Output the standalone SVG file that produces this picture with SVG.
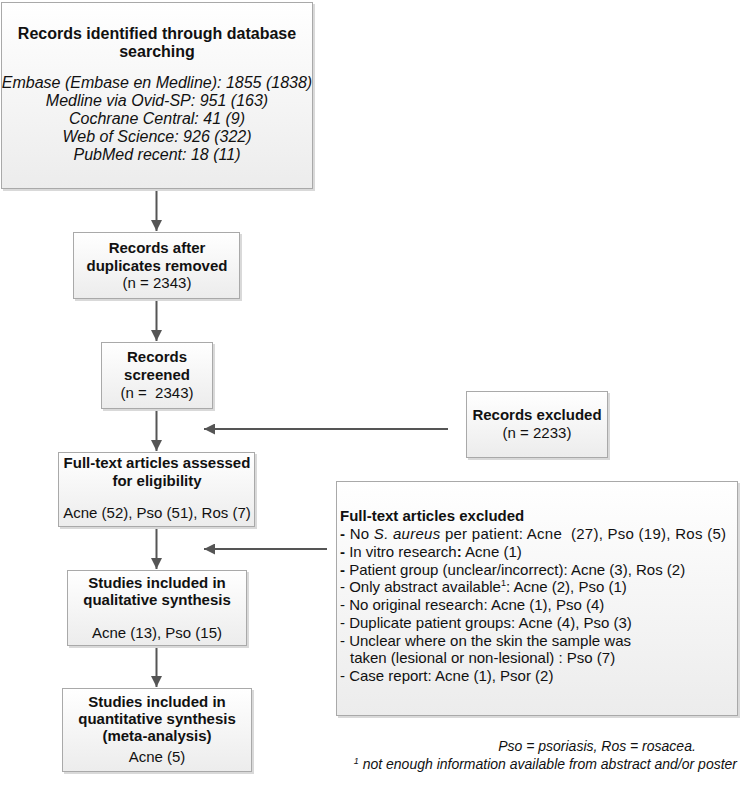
<svg xmlns="http://www.w3.org/2000/svg" width="742" height="785" viewBox="0 0 742 785">
<style>
.box{fill:url(#g);stroke:#a9a9a9;stroke-width:1}
.sh{fill:#d9d9d9}
text{font-family:"Liberation Sans",Arial,sans-serif;fill:#111}
.b{font-weight:bold}
.c{text-anchor:middle}
.f15{font-size:15px}
.f16{font-size:16px}
.i{font-style:italic}
.con{stroke:#555;stroke-width:2;fill:none;marker-end:url(#ah)}
.fn{font-family:"Liberation Sans",Arial,sans-serif;font-style:italic;font-size:14px}
</style>
<defs>
<linearGradient id="g" x1="0" y1="0" x2="0" y2="1">
<stop offset="0" stop-color="#ffffff"/>
<stop offset="1" stop-color="#ececec"/>
</linearGradient>
<marker id="ah" viewBox="0 0 10 10" refX="10" refY="5" markerWidth="5.5" markerHeight="5.5" orient="auto" markerUnits="strokeWidth">
<path d="M0,0 L10,5 L0,10 z" fill="#555"/>
</marker>
</defs>

<g id="connectors">
<line class="con" x1="156.5" y1="190" x2="156.5" y2="231"/>
<line class="con" x1="156.5" y1="299" x2="156.5" y2="341"/>
<line class="con" x1="156.5" y1="409" x2="156.5" y2="451"/>
<line class="con" x1="156.5" y1="527" x2="156.5" y2="569"/>
<line class="con" x1="156.5" y1="646" x2="156.5" y2="687"/>
<line class="con" x1="448" y1="429" x2="204" y2="429"/>
<line class="con" x1="327" y1="549" x2="204" y2="549"/>
</g>

<g id="n1">
<rect class="sh" x="3" y="4" width="312" height="187"/>
<rect class="box" x="1.5" y="2.5" width="311" height="186"/>
<text class="b c f16" x="157" y="39">Records identified through database</text>
<text class="b c f16" x="157" y="57">searching</text>
<text class="i c f16" x="157" y="88">Embase (Embase en Medline): 1855 (1838)</text>
<text class="i c f16" x="157" y="106">Medline via Ovid-SP: 951 (163)</text>
<text class="i c f16" x="157" y="124">Cochrane Central: 41 (9)</text>
<text class="i c f16" x="157" y="142">Web of Science: 926 (322)</text>
<text class="i c f16" x="157" y="160">PubMed recent: 18 (11)</text>
</g>

<g id="n2">
<rect class="sh" x="75" y="234" width="167" height="67"/>
<rect class="box" x="73.5" y="232.5" width="166" height="66"/>
<text class="b c f15" x="157" y="253">Records after</text>
<text class="b c f15" x="157" y="271">duplicates removed</text>
<text class="c f15" x="157" y="288">(n = 2343)</text>
</g>

<g id="n3">
<rect class="sh" x="103" y="344" width="112" height="67"/>
<rect class="box" x="101.5" y="342.5" width="111" height="66"/>
<text class="b c f15" x="157" y="362">Records</text>
<text class="b c f15" x="157" y="380">screened</text>
<text class="c f15" x="157" y="398" xml:space="preserve">(n =  2343)</text>
</g>

<g id="n4">
<rect class="sh" x="60" y="454" width="197" height="75"/>
<rect class="box" x="58.5" y="452.5" width="196" height="74"/>
<text class="b c f15" x="157" y="468">Full-text articles assessed</text>
<text class="b c f15" x="157" y="486">for eligibility</text>
<text class="c f15" x="157" y="518">Acne (52), Pso (51), Ros (7)</text>
</g>

<g id="n5">
<rect class="sh" x="69" y="572" width="180" height="76"/>
<rect class="box" x="67.5" y="570.5" width="179" height="75"/>
<text class="b c f15" x="157" y="588">Studies included in</text>
<text class="b c f15" x="157" y="605">qualitative synthesis</text>
<text class="c f15" x="157" y="638">Acne (13), Pso (15)</text>
</g>

<g id="n6">
<rect class="sh" x="64" y="690" width="190" height="84"/>
<rect class="box" x="62.5" y="688.5" width="189" height="83"/>
<text class="b c f15" x="157" y="707">Studies included in</text>
<text class="b c f15" x="157" y="724">quantitative synthesis</text>
<text class="b c f15" x="157" y="741">(meta-analysis)</text>
<text class="c f15" x="157" y="762">Acne (5)</text>
</g>

<g id="n7">
<rect class="sh" x="468" y="393" width="142" height="67"/>
<rect class="box" x="466.5" y="391.5" width="141" height="66"/>
<text class="b c f15" x="537" y="420">Records excluded</text>
<text class="c f15" x="537" y="438">(n = 2233)</text>
</g>

<g id="n8">
<rect class="sh" x="338" y="483" width="402" height="235"/>
<rect class="box" x="336.5" y="481.5" width="401" height="234"/>
<text class="b f15" x="340" y="521">Full-text articles excluded</text>
<text class="f15" x="340" y="539" xml:space="preserve" textLength="386" lengthAdjust="spacing"><tspan class="b">-</tspan> No <tspan class="i">S. aureus</tspan> per patient: Acne  (27), Pso (19), Ros (5)</text>
<text class="f15" x="340" y="556.5"><tspan class="b">-</tspan> In vitro research<tspan class="b">:</tspan> Acne (1)</text>
<text class="f15" x="340" y="574.5"><tspan class="b">-</tspan> Patient group (unclear/incorrect): Acne (3), Ros (2)</text>
<text class="f15" x="340" y="592">- Only abstract available<tspan font-size="9" dy="-6">1</tspan><tspan dy="6">: Acne (2), Pso (1)</tspan></text>
<text class="f15" x="340" y="610">- No original research: Acne (1), Pso (4)</text>
<text class="f15" x="340" y="628">- Duplicate patient groups: Acne (4), Pso (3)</text>
<text class="f15" x="340" y="645.5">- Unclear where on the skin the sample was</text>
<text class="f15" x="350" y="663">taken (lesional or non-lesional) : Pso (7)</text>
<text class="f15" x="340" y="681">- Case report: Acne (1), Psor (2)</text>
</g>

<g id="footnote">
<text class="fn c" x="597" y="751">Pso = psoriasis, Ros = rosacea.</text>
<text class="fn" x="737" y="769" text-anchor="end"><tspan font-size="9" dy="-5">1</tspan><tspan dy="5"> not enough information available from abstract and/or poster</tspan></text>
</g>
</svg>
